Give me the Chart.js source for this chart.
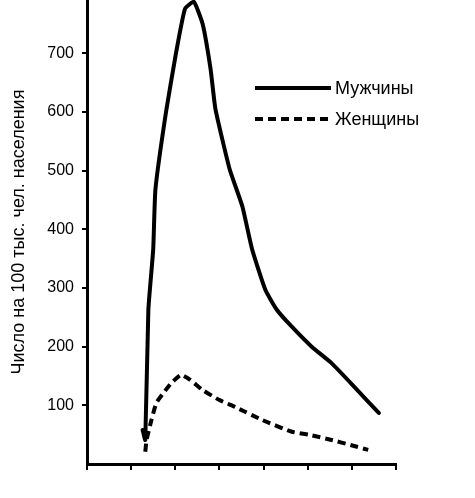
<!DOCTYPE html>
<html>
<head>
<meta charset="utf-8">
<script src="https://cdn.jsdelivr.net/npm/chart.js@4/dist/chart.umd.min.js"></script>
<style>
html,body{margin:0;padding:0;background:#fff;}
#wrap{width:475px;height:498px;position:relative;}
</style>
</head>
<body>
<div id="wrap"><canvas id="c" width="475" height="498"></canvas></div>
<script>
// Data (x in tick-interval units along the unlabeled horizontal axis)
const seriesNames = ['Мужчины', 'Женщины'];
const menX = [1.26, 1.32, 1.39, 1.50, 1.55, 1.79, 2.02, 2.22, 2.42, 2.62, 2.80, 2.91, 3.23, 3.52, 3.74, 4.04, 4.30, 4.64, 5.09, 5.54, 6.05, 6.61];
const menY = [58, 41, 263, 366, 468, 600, 702, 776, 788, 750, 673, 605, 503, 439, 366, 297, 263, 234, 200, 172, 132, 87];
const womenX = [1.32, 1.35, 1.46, 1.57, 1.73, 1.91, 2.13, 2.33, 2.62, 3.00, 3.36, 3.97, 4.64, 5.02, 5.54, 5.99, 6.37];
const womenY = [21, 41, 75, 104, 121, 138, 152, 144, 126, 109, 97, 75, 55, 50, 41, 32, 24];
const yTicks = [100, 200, 300, 400, 500, 600, 700];
const yTitle = 'Число на 100 тыс. чел. населения';

const toPts = (xs, ys) => xs.map((x, i) => ({x: x, y: ys[i]}));
const FONT = '"Liberation Sans", Arial, sans-serif';

const legendPlugin = {
  id: 'customLegend',
  afterDraw(chart) {
    const ctx = chart.ctx;
    const rows = [88, 119];
    chart.data.datasets.forEach((ds, i) => {
      const y = rows[i];
      ctx.save();
      ctx.strokeStyle = '#000';
      ctx.lineWidth = ds.borderWidth;
      ctx.setLineDash(ds.borderDash || []);
      ctx.beginPath();
      ctx.moveTo(255, y);
      ctx.lineTo(331, y);
      ctx.stroke();
      ctx.setLineDash([]);
      ctx.fillStyle = '#000';
      ctx.font = '18px ' + FONT;
      ctx.textBaseline = 'middle';
      ctx.fillText(ds.label, 335, y + 1);
      ctx.restore();
    });
  }
};

new Chart(document.getElementById('c'), {
  type: 'line',
  data: {
    datasets: [
      {label: seriesNames[0], data: toPts(menX, menY), borderColor: '#000', borderWidth: 4, pointRadius: 0, tension: 0.15, fill: false, borderCapStyle: 'round', borderJoinStyle: 'round'},
      {label: seriesNames[1], data: toPts(womenX, womenY), borderColor: '#000', borderWidth: 4, borderDash: [8, 5], pointRadius: 0, tension: 0.15, fill: false, borderJoinStyle: 'round'}
    ]
  },
  options: {
    responsive: false,
    animation: false,
    devicePixelRatio: 1,
    layout: {padding: {top: 0, right: 79, bottom: 0, left: 0}},
    plugins: {legend: {display: false}, tooltip: {enabled: false}},
    scales: {
      x: {
        type: 'linear', min: 0, max: 7,
        afterFit: s => { s.height = 34; s.paddingLeft = 0; s.paddingRight = 0; },
        ticks: {stepSize: 1, callback: () => '', font: {size: 1}},
        grid: {drawOnChartArea: false, drawTicks: true, tickLength: 6, color: '#000', lineWidth: 2},
        border: {display: true, color: '#000', width: 3}
      },
      y: {
        min: 0, max: 791,
        afterFit: s => { s.width = 87; s.paddingTop = 0; s.paddingBottom = 0; },
        afterBuildTicks: s => { s.ticks = yTicks.map(v => ({value: v})); },
        ticks: {color: '#000', padding: 8, font: {family: FONT, size: 16}},
        grid: {drawOnChartArea: false, drawTicks: true, tickLength: 5, color: '#000', lineWidth: 2},
        border: {display: true, color: '#000', width: 3},
        title: {display: true, text: yTitle, color: '#000', font: {family: FONT, size: 18}, padding: {top: 8, bottom: 0}}
      }
    }
  },
  plugins: [legendPlugin]
});
</script>
</body>
</html>
